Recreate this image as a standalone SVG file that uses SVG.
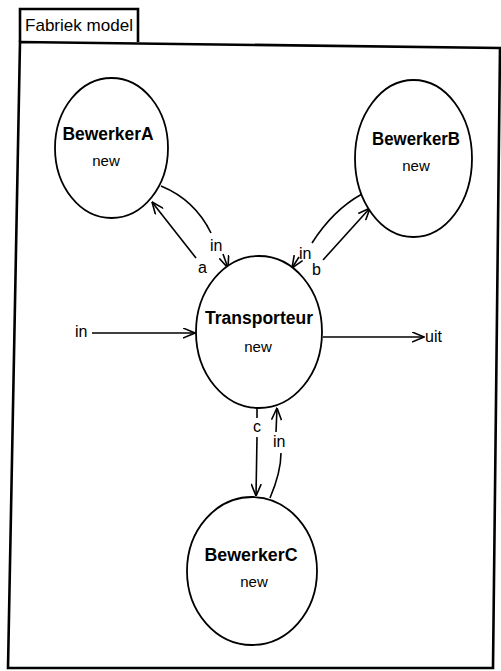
<svg xmlns="http://www.w3.org/2000/svg" width="501" height="671" viewBox="0 0 501 671">
  <style>
    .frame { fill: none; stroke: #000; stroke-width: 2.6; stroke-linejoin: miter; }
    .node { fill: #fff; stroke: #000; stroke-width: 1.8; }
    .name { font-family: "Liberation Sans", Arial, sans-serif; font-weight: bold; font-size: 18px; text-anchor: middle; fill: #000; }
    .state { font-family: "Liberation Sans", Arial, sans-serif; font-size: 15px; text-anchor: middle; fill: #000; }
    .lbl { font-family: "Liberation Sans", Arial, sans-serif; font-size: 16px; fill: #000; }
    .title { font-family: "Liberation Sans", Arial, sans-serif; font-size: 17px; fill: #000; }
    .edge { fill: none; stroke: #000; stroke-width: 1.6; }
  </style>
  <defs>
    <marker id="open" viewBox="0 0 13 11" refX="12.5" refY="5.5" markerWidth="13" markerHeight="11" markerUnits="userSpaceOnUse" orient="auto">
      <path d="M0.5,0.5 L12.5,5.5 L0.5,10.5" fill="none" stroke="#000" stroke-width="1.6"/>
    </marker>
  </defs>

  <rect width="501" height="671" fill="#fff"/>

  <!-- model frame with title tab -->
  <g id="frame">
    <polygon class="frame" points="20,42 500,48 493,668 8,668"/>
    <polyline class="frame" points="20,42 20,9 138,9 138,42"/>
    <text class="title" x="25" y="31" textLength="108" lengthAdjust="spacingAndGlyphs">Fabriek model</text>
  </g>

  <!-- connectors -->
  <g id="connectors">
    <!-- Transporteur a -> BewerkerA -->
    <line class="edge" x1="196" y1="258" x2="152" y2="202" marker-end="url(#open)"/>
    <text class="lbl" x="198" y="273">a</text>
    <!-- BewerkerA -> Transporteur in -->
    <path class="edge" d="M161,186 Q195,200 211,233"/>
    <text class="lbl" x="210" y="251">in</text>
    <line class="edge" x1="223" y1="254" x2="228" y2="268" marker-end="url(#open)"/>

    <!-- Transporteur b -> BewerkerB -->
    <line class="edge" x1="323" y1="260" x2="370" y2="208" marker-end="url(#open)"/>
    <text class="lbl" x="312" y="275">b</text>
    <!-- BewerkerB -> Transporteur in -->
    <path class="edge" d="M362,194 Q333,210 312,243"/>
    <text class="lbl" x="299" y="259">in</text>
    <line class="edge" x1="299" y1="257" x2="292" y2="268" marker-end="url(#open)"/>

    <!-- Transporteur c -> BewerkerC -->
    <line class="edge" x1="257" y1="409" x2="257" y2="418"/>
    <text class="lbl" x="253" y="432">c</text>
    <line class="edge" x1="257" y1="437" x2="256" y2="496" marker-end="url(#open)"/>
    <!-- BewerkerC -> Transporteur in -->
    <path class="edge" d="M270,498 Q281,472 281,453"/>
    <text class="lbl" x="273" y="447">in</text>
    <line class="edge" x1="276" y1="432" x2="277" y2="408" marker-end="url(#open)"/>

    <!-- external in / uit -->
    <text class="lbl" x="75" y="337">in</text>
    <line class="edge" x1="92" y1="333" x2="195" y2="333" marker-end="url(#open)"/>
    <line class="edge" x1="323" y1="337" x2="424" y2="337" marker-end="url(#open)"/>
    <text class="lbl" x="425" y="342">uit</text>
  </g>

  <!-- nodes -->
  <g id="BewerkerA">
    <ellipse class="node" cx="111.5" cy="148" rx="56.5" ry="70"/>
    <text class="name" x="108" y="140" textLength="91" lengthAdjust="spacingAndGlyphs">BewerkerA</text>
    <text class="state" x="106" y="166">new</text>
  </g>
  <g id="BewerkerB">
    <ellipse class="node" cx="413.5" cy="158.5" rx="58.5" ry="78.5"/>
    <text class="name" x="416" y="145" textLength="88" lengthAdjust="spacingAndGlyphs">BewerkerB</text>
    <text class="state" x="416" y="171">new</text>
  </g>
  <g id="Transporteur">
    <ellipse class="node" cx="259" cy="332" rx="63" ry="76"/>
    <text class="name" x="259" y="324" textLength="108" lengthAdjust="spacingAndGlyphs">Transporteur</text>
    <text class="state" x="258" y="352">new</text>
  </g>
  <g id="BewerkerC">
    <ellipse class="node" cx="252" cy="571" rx="65" ry="74"/>
    <text class="name" x="251" y="561" textLength="93" lengthAdjust="spacingAndGlyphs">BewerkerC</text>
    <text class="state" x="254" y="587">new</text>
  </g>
</svg>
